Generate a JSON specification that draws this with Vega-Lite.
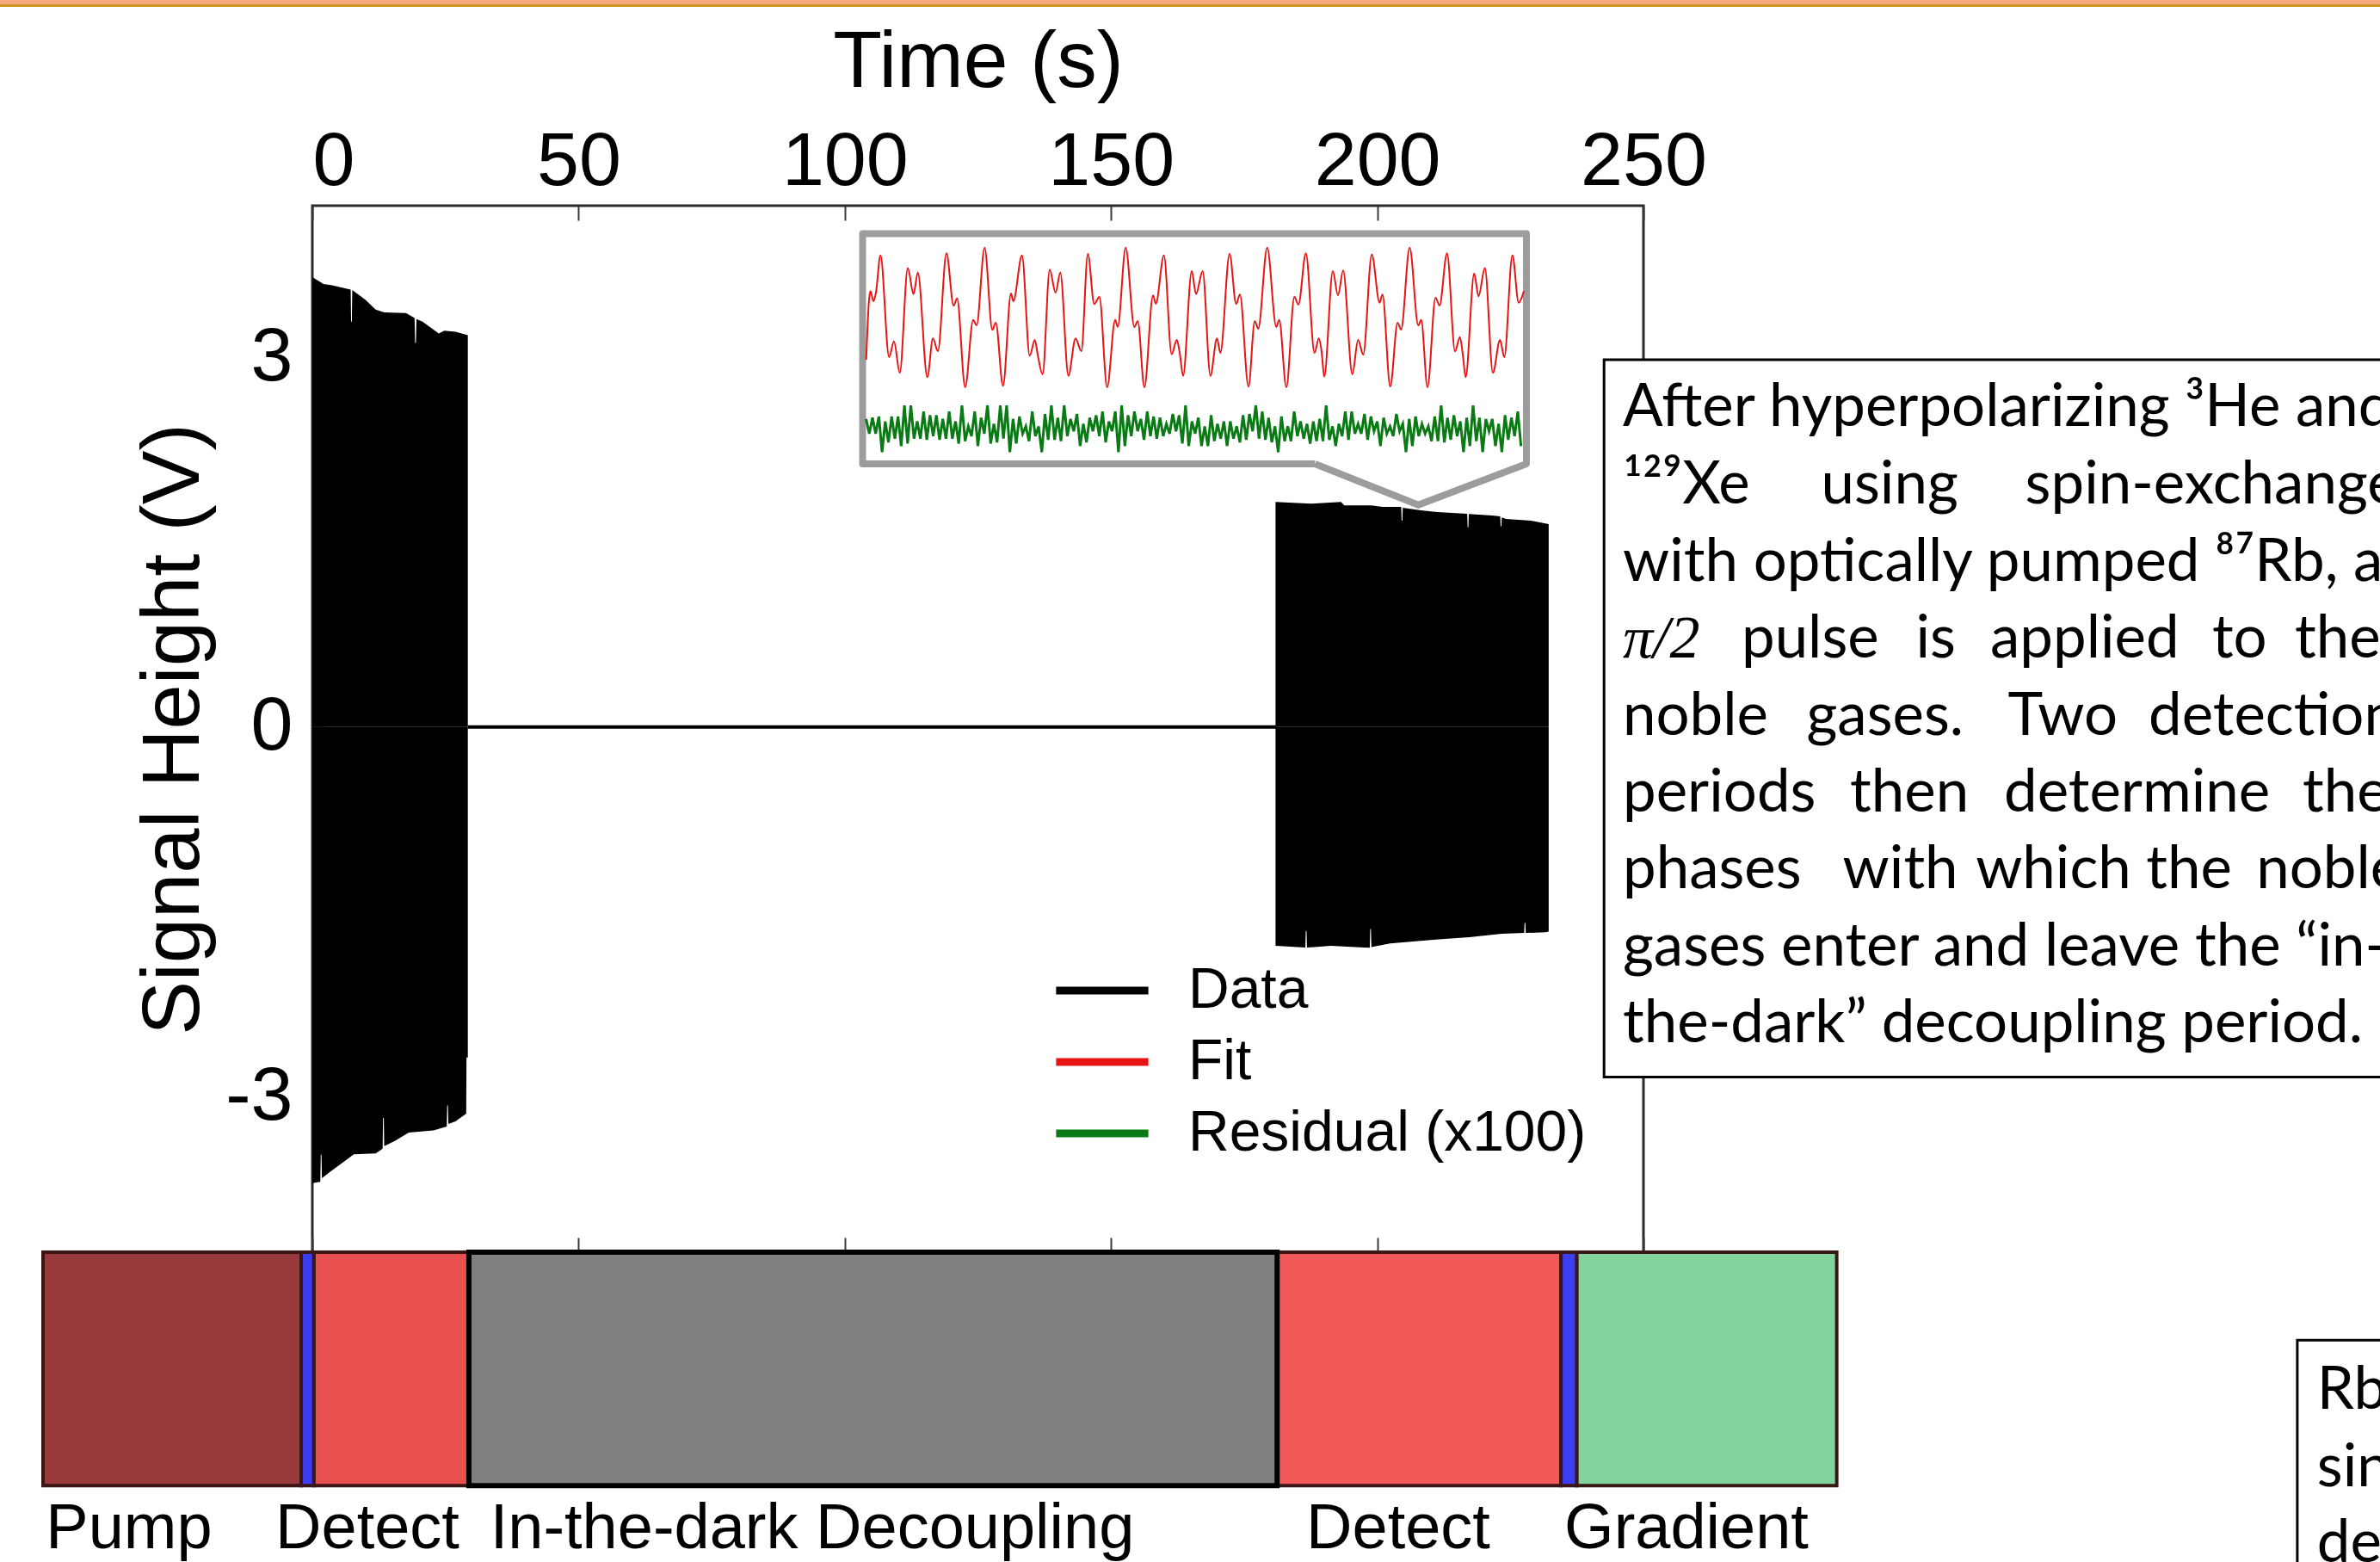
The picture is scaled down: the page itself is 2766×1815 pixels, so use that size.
{
  "$schema": "https://vega.github.io/schema/vega-lite/v6.json",
  "autosize": {"type": "none"},
  "padding": {"left": 363, "top": 239, "right": 856, "bottom": 360},
  "width": 1547,
  "height": 1216,
  "background": "white",
  "config": {"view": {"stroke": "#2a2a2a", "strokeWidth": 3}, "font": "Liberation Sans"},
  "resolve": {"axis": {"x": "independent", "y": "independent"}},
  "datasets": {
    "envelope": [
      {"series": "Data", "part": "A+", "t": 0, "v": 3.65},
      {"series": "Data", "part": "A+", "t": 2.1, "v": 3.594},
      {"series": "Data", "part": "A+", "t": 3.7, "v": 3.585},
      {"series": "Data", "part": "A+", "t": 6.3, "v": 3.558},
      {"series": "Data", "part": "A+", "t": 7.2, "v": 3.55},
      {"series": "Data", "part": "A+", "t": 7.28, "v": 3.29},
      {"series": "Data", "part": "A+", "t": 7.42, "v": 3.29},
      {"series": "Data", "part": "A+", "t": 7.5, "v": 3.545},
      {"series": "Data", "part": "A+", "t": 9.9, "v": 3.469},
      {"series": "Data", "part": "A+", "t": 11.9, "v": 3.387},
      {"series": "Data", "part": "A+", "t": 13.5, "v": 3.365},
      {"series": "Data", "part": "A+", "t": 17.6, "v": 3.359},
      {"series": "Data", "part": "A+", "t": 19.2, "v": 3.318},
      {"series": "Data", "part": "A+", "t": 19.3, "v": 3.116},
      {"series": "Data", "part": "A+", "t": 19.45, "v": 3.116},
      {"series": "Data", "part": "A+", "t": 19.55, "v": 3.31},
      {"series": "Data", "part": "A+", "t": 20.7, "v": 3.29},
      {"series": "Data", "part": "A+", "t": 23.75, "v": 3.193},
      {"series": "Data", "part": "A+", "t": 24.8, "v": 3.216},
      {"series": "Data", "part": "A+", "t": 26.9, "v": 3.207},
      {"series": "Data", "part": "A+", "t": 29.2, "v": 3.179},
      {"series": "Data", "part": "A-", "t": 0, "v": -3.7},
      {"series": "Data", "part": "A-", "t": 1.5, "v": -3.69},
      {"series": "Data", "part": "A-", "t": 1.58, "v": -3.47},
      {"series": "Data", "part": "A-", "t": 1.72, "v": -3.47},
      {"series": "Data", "part": "A-", "t": 1.8, "v": -3.66},
      {"series": "Data", "part": "A-", "t": 3.2, "v": -3.613},
      {"series": "Data", "part": "A-", "t": 7.8, "v": -3.466},
      {"series": "Data", "part": "A-", "t": 11.9, "v": -3.459},
      {"series": "Data", "part": "A-", "t": 13.2, "v": -3.42},
      {"series": "Data", "part": "A-", "t": 13.28, "v": -3.17},
      {"series": "Data", "part": "A-", "t": 13.42, "v": -3.17},
      {"series": "Data", "part": "A-", "t": 13.5, "v": -3.4},
      {"series": "Data", "part": "A-", "t": 15.5, "v": -3.358},
      {"series": "Data", "part": "A-", "t": 18.1, "v": -3.29},
      {"series": "Data", "part": "A-", "t": 22.75, "v": -3.272},
      {"series": "Data", "part": "A-", "t": 25.25, "v": -3.24},
      {"series": "Data", "part": "A-", "t": 25.33, "v": -3.07},
      {"series": "Data", "part": "A-", "t": 25.47, "v": -3.07},
      {"series": "Data", "part": "A-", "t": 25.55, "v": -3.22},
      {"series": "Data", "part": "A-", "t": 26.9, "v": -3.198},
      {"series": "Data", "part": "A-", "t": 28.9, "v": -3.136},
      {"series": "Data", "part": "A-", "t": 28.95, "v": -2.68},
      {"series": "Data", "part": "A-", "t": 29.2, "v": -2.68},
      {"series": "Data", "part": "B+", "t": 180.9, "v": 1.827},
      {"series": "Data", "part": "B+", "t": 187.6, "v": 1.813},
      {"series": "Data", "part": "B+", "t": 193.2, "v": 1.827},
      {"series": "Data", "part": "B+", "t": 193.8, "v": 1.799},
      {"series": "Data", "part": "B+", "t": 198.9, "v": 1.799},
      {"series": "Data", "part": "B+", "t": 201.0, "v": 1.786},
      {"series": "Data", "part": "B+", "t": 204.5, "v": 1.786},
      {"series": "Data", "part": "B+", "t": 204.58, "v": 1.675},
      {"series": "Data", "part": "B+", "t": 204.72, "v": 1.675},
      {"series": "Data", "part": "B+", "t": 204.8, "v": 1.78},
      {"series": "Data", "part": "B+", "t": 208.2, "v": 1.758},
      {"series": "Data", "part": "B+", "t": 211.3, "v": 1.744},
      {"series": "Data", "part": "B+", "t": 216.9, "v": 1.73},
      {"series": "Data", "part": "B+", "t": 216.98, "v": 1.62},
      {"series": "Data", "part": "B+", "t": 217.12, "v": 1.62},
      {"series": "Data", "part": "B+", "t": 217.2, "v": 1.728},
      {"series": "Data", "part": "B+", "t": 221.6, "v": 1.716},
      {"series": "Data", "part": "B+", "t": 223.1, "v": 1.71},
      {"series": "Data", "part": "B+", "t": 223.18, "v": 1.63},
      {"series": "Data", "part": "B+", "t": 223.32, "v": 1.63},
      {"series": "Data", "part": "B+", "t": 223.4, "v": 1.7},
      {"series": "Data", "part": "B+", "t": 224.2, "v": 1.689},
      {"series": "Data", "part": "B+", "t": 228.9, "v": 1.675},
      {"series": "Data", "part": "B+", "t": 232.2, "v": 1.647},
      {"series": "Data", "part": "B-", "t": 180.9, "v": -1.774},
      {"series": "Data", "part": "B-", "t": 186.5, "v": -1.789},
      {"series": "Data", "part": "B-", "t": 186.58, "v": -1.654},
      {"series": "Data", "part": "B-", "t": 186.72, "v": -1.654},
      {"series": "Data", "part": "B-", "t": 186.8, "v": -1.789},
      {"series": "Data", "part": "B-", "t": 191.3, "v": -1.774},
      {"series": "Data", "part": "B-", "t": 197.5, "v": -1.789},
      {"series": "Data", "part": "B-", "t": 198.6, "v": -1.79},
      {"series": "Data", "part": "B-", "t": 198.68, "v": -1.638},
      {"series": "Data", "part": "B-", "t": 198.82, "v": -1.638},
      {"series": "Data", "part": "B-", "t": 198.9, "v": -1.785},
      {"series": "Data", "part": "B-", "t": 202.4, "v": -1.756},
      {"series": "Data", "part": "B-", "t": 211.0, "v": -1.723},
      {"series": "Data", "part": "B-", "t": 217.3, "v": -1.705},
      {"series": "Data", "part": "B-", "t": 223.4, "v": -1.677},
      {"series": "Data", "part": "B-", "t": 227.6, "v": -1.67},
      {"series": "Data", "part": "B-", "t": 227.68, "v": -1.587},
      {"series": "Data", "part": "B-", "t": 227.82, "v": -1.587},
      {"series": "Data", "part": "B-", "t": 227.9, "v": -1.67},
      {"series": "Data", "part": "B-", "t": 231.6, "v": -1.665},
      {"series": "Data", "part": "B-", "t": 232.2, "v": -1.66}
    ],
    "fit": [
      {"series": "Fit", "t": 104.02, "v": 2.98}, {"series": "Fit", "t": 104.56, "v": 3.469}, {"series": "Fit", "t": 104.83, "v": 3.537},
      {"series": "Fit", "t": 105.37, "v": 3.455}, {"series": "Fit", "t": 105.85, "v": 3.525}, {"series": "Fit", "t": 106.71, "v": 3.827},
      {"series": "Fit", "t": 108.32, "v": 3.001}, {"series": "Fit", "t": 109.24, "v": 3.129}, {"series": "Fit", "t": 110.33, "v": 2.874},
      {"series": "Fit", "t": 111.83, "v": 3.723}, {"series": "Fit", "t": 112.91, "v": 3.513}, {"series": "Fit", "t": 113.72, "v": 3.688},
      {"series": "Fit", "t": 115.5, "v": 2.839}, {"series": "Fit", "t": 116.56, "v": 3.153}, {"series": "Fit", "t": 117.49, "v": 3.05},
      {"series": "Fit", "t": 119.1, "v": 3.844}, {"series": "Fit", "t": 120.44, "v": 3.42}, {"series": "Fit", "t": 121.09, "v": 3.478},
      {"series": "Fit", "t": 122.61, "v": 2.757}, {"series": "Fit", "t": 124.11, "v": 3.304}, {"series": "Fit", "t": 124.76, "v": 3.26},
      {"series": "Fit", "t": 126.26, "v": 3.89}, {"series": "Fit", "t": 127.71, "v": 3.223}, {"series": "Fit", "t": 128.36, "v": 3.281},
      {"series": "Fit", "t": 129.72, "v": 2.769}, {"series": "Fit", "t": 131.22, "v": 3.518}, {"series": "Fit", "t": 131.66, "v": 3.455},
      {"series": "Fit", "t": 133.28, "v": 3.827}, {"series": "Fit", "t": 134.73, "v": 3.013}, {"series": "Fit", "t": 135.7, "v": 3.141},
      {"series": "Fit", "t": 136.23, "v": 3.022}, {"series": "Fit", "t": 137.15, "v": 2.862}, {"series": "Fit", "t": 138.49, "v": 3.712},
      {"series": "Fit", "t": 139.58, "v": 3.525}, {"series": "Fit", "t": 140.48, "v": 3.688}, {"series": "Fit", "t": 142.0, "v": 2.85},
      {"series": "Fit", "t": 143.34, "v": 3.153}, {"series": "Fit", "t": 144.43, "v": 3.05}, {"series": "Fit", "t": 145.65, "v": 3.839},
      {"series": "Fit", "t": 146.85, "v": 3.432}, {"series": "Fit", "t": 147.82, "v": 3.49}, {"series": "Fit", "t": 149.27, "v": 2.757},
      {"series": "Fit", "t": 150.78, "v": 3.304}, {"series": "Fit", "t": 151.26, "v": 3.246}, {"series": "Fit", "t": 152.76, "v": 3.89},
      {"series": "Fit", "t": 154.38, "v": 3.246}, {"series": "Fit", "t": 155.03, "v": 3.293}, {"series": "Fit", "t": 156.27, "v": 2.757},
      {"series": "Fit", "t": 157.89, "v": 3.502}, {"series": "Fit", "t": 158.42, "v": 3.434}, {"series": "Fit", "t": 159.94, "v": 3.827},
      {"series": "Fit", "t": 161.39, "v": 3.024}, {"series": "Fit", "t": 162.36, "v": 3.141}, {"series": "Fit", "t": 162.9, "v": 3.036},
      {"series": "Fit", "t": 163.54, "v": 2.85}, {"series": "Fit", "t": 165.16, "v": 3.7}, {"series": "Fit", "t": 165.97, "v": 3.513},
      {"series": "Fit", "t": 167.21, "v": 3.7}, {"series": "Fit", "t": 168.67, "v": 2.85}, {"series": "Fit", "t": 169.9, "v": 3.153},
      {"series": "Fit", "t": 170.54, "v": 3.036}, {"series": "Fit", "t": 172.27, "v": 3.839}, {"series": "Fit", "t": 173.51, "v": 3.432},
      {"series": "Fit", "t": 174.21, "v": 3.509}, {"series": "Fit", "t": 175.82, "v": 2.762}, {"series": "Fit", "t": 177.0, "v": 3.293},
      {"series": "Fit", "t": 177.65, "v": 3.232}, {"series": "Fit", "t": 179.33, "v": 3.89}, {"series": "Fit", "t": 181.04, "v": 3.246},
      {"series": "Fit", "t": 181.59, "v": 3.304}, {"series": "Fit", "t": 182.93, "v": 2.757}, {"series": "Fit", "t": 184.44, "v": 3.49},
      {"series": "Fit", "t": 185.2, "v": 3.427}, {"series": "Fit", "t": 186.6, "v": 3.844}, {"series": "Fit", "t": 188.22, "v": 3.036},
      {"series": "Fit", "t": 189.03, "v": 3.153}, {"series": "Fit", "t": 189.56, "v": 3.043}, {"series": "Fit", "t": 190.05, "v": 2.843},
      {"series": "Fit", "t": 191.66, "v": 3.7}, {"series": "Fit", "t": 192.63, "v": 3.502}, {"series": "Fit", "t": 193.6, "v": 3.705},
      {"series": "Fit", "t": 195.33, "v": 2.862}, {"series": "Fit", "t": 196.4, "v": 3.141}, {"series": "Fit", "t": 197.37, "v": 3.022},
      {"series": "Fit", "t": 198.98, "v": 3.834}, {"series": "Fit", "t": 200.44, "v": 3.443}, {"series": "Fit", "t": 200.99, "v": 3.509},
      {"series": "Fit", "t": 202.44, "v": 2.762}, {"series": "Fit", "t": 203.83, "v": 3.281}, {"series": "Fit", "t": 204.48, "v": 3.225},
      {"series": "Fit", "t": 206.09, "v": 3.89}, {"series": "Fit", "t": 207.71, "v": 3.258}, {"series": "Fit", "t": 208.26, "v": 3.304},
      {"series": "Fit", "t": 209.44, "v": 2.757}, {"series": "Fit", "t": 210.95, "v": 3.483}, {"series": "Fit", "t": 211.7, "v": 3.42},
      {"series": "Fit", "t": 213.11, "v": 3.844}, {"series": "Fit", "t": 214.61, "v": 3.048}, {"series": "Fit", "t": 215.53, "v": 3.164},
      {"series": "Fit", "t": 216.07, "v": 3.022}, {"series": "Fit", "t": 216.6, "v": 2.839}, {"series": "Fit", "t": 218.21, "v": 3.681},
      {"series": "Fit", "t": 219.02, "v": 3.495}, {"series": "Fit", "t": 220.22, "v": 3.723}, {"series": "Fit", "t": 221.72, "v": 2.874},
      {"series": "Fit", "t": 223.06, "v": 3.141}, {"series": "Fit", "t": 223.87, "v": 3.001}, {"series": "Fit", "t": 225.38, "v": 3.827},
      {"series": "Fit", "t": 226.57, "v": 3.443}, {"series": "Fit", "t": 227.54, "v": 3.537}
    ],
    "residual": [
      {"t": 104.0, "v": 2.50}, {"t": 104.6, "v": 2.38}, {"t": 105.2, "v": 2.51}, {"t": 105.8, "v": 2.38}, {"t": 106.4, "v": 2.52},
      {"t": 107.0, "v": 2.23}, {"t": 107.6, "v": 2.48}, {"t": 108.2, "v": 2.31}, {"t": 108.8, "v": 2.52}, {"t": 109.4, "v": 2.34},
      {"t": 110.0, "v": 2.52}, {"t": 110.6, "v": 2.28}, {"t": 111.2, "v": 2.61}, {"t": 111.8, "v": 2.30}, {"t": 112.4, "v": 2.61},
      {"t": 113.0, "v": 2.34}, {"t": 113.6, "v": 2.48}, {"t": 114.2, "v": 2.34}, {"t": 114.8, "v": 2.56}, {"t": 115.4, "v": 2.33},
      {"t": 116.0, "v": 2.53}, {"t": 116.6, "v": 2.36}, {"t": 117.2, "v": 2.53}, {"t": 117.8, "v": 2.33}, {"t": 118.4, "v": 2.50},
      {"t": 119.0, "v": 2.34}, {"t": 119.6, "v": 2.56}, {"t": 120.2, "v": 2.34}, {"t": 120.8, "v": 2.48}, {"t": 121.4, "v": 2.30},
      {"t": 122.0, "v": 2.61}, {"t": 122.6, "v": 2.32}, {"t": 123.2, "v": 2.44}, {"t": 123.8, "v": 2.36}, {"t": 124.4, "v": 2.56},
      {"t": 125.0, "v": 2.28}, {"t": 125.6, "v": 2.51}, {"t": 126.2, "v": 2.38}, {"t": 126.8, "v": 2.61}, {"t": 127.4, "v": 2.30},
      {"t": 128.0, "v": 2.46}, {"t": 128.6, "v": 2.31}, {"t": 129.2, "v": 2.61}, {"t": 129.8, "v": 2.34}, {"t": 130.4, "v": 2.61},
      {"t": 131.0, "v": 2.23}, {"t": 131.6, "v": 2.50}, {"t": 132.2, "v": 2.30}, {"t": 132.8, "v": 2.52}, {"t": 133.4, "v": 2.38},
      {"t": 134.0, "v": 2.44}, {"t": 134.6, "v": 2.32}, {"t": 135.2, "v": 2.56}, {"t": 135.8, "v": 2.36}, {"t": 136.4, "v": 2.44},
      {"t": 137.0, "v": 2.23}, {"t": 137.6, "v": 2.54}, {"t": 138.2, "v": 2.33}, {"t": 138.8, "v": 2.61}, {"t": 139.4, "v": 2.33},
      {"t": 140.0, "v": 2.51}, {"t": 140.6, "v": 2.32}, {"t": 141.2, "v": 2.61}, {"t": 141.8, "v": 2.36}, {"t": 142.4, "v": 2.50},
      {"t": 143.0, "v": 2.40}, {"t": 143.6, "v": 2.54}, {"t": 144.2, "v": 2.28}, {"t": 144.8, "v": 2.46}, {"t": 145.4, "v": 2.31},
      {"t": 146.0, "v": 2.51}, {"t": 146.6, "v": 2.40}, {"t": 147.2, "v": 2.53}, {"t": 147.8, "v": 2.36}, {"t": 148.4, "v": 2.56},
      {"t": 149.0, "v": 2.31}, {"t": 149.6, "v": 2.48}, {"t": 150.2, "v": 2.40}, {"t": 150.8, "v": 2.56}, {"t": 151.4, "v": 2.23},
      {"t": 152.0, "v": 2.61}, {"t": 152.6, "v": 2.28}, {"t": 153.2, "v": 2.53}, {"t": 153.8, "v": 2.36}, {"t": 154.4, "v": 2.56},
      {"t": 155.0, "v": 2.40}, {"t": 155.6, "v": 2.50}, {"t": 156.2, "v": 2.33}, {"t": 156.8, "v": 2.56}, {"t": 157.4, "v": 2.36},
      {"t": 158.0, "v": 2.52}, {"t": 158.6, "v": 2.34}, {"t": 159.2, "v": 2.51}, {"t": 159.8, "v": 2.36}, {"t": 160.4, "v": 2.46},
      {"t": 161.0, "v": 2.38}, {"t": 161.6, "v": 2.54}, {"t": 162.2, "v": 2.40}, {"t": 162.8, "v": 2.53}, {"t": 163.4, "v": 2.30},
      {"t": 164.0, "v": 2.61}, {"t": 164.6, "v": 2.28}, {"t": 165.2, "v": 2.48}, {"t": 165.8, "v": 2.38}, {"t": 166.4, "v": 2.51},
      {"t": 167.0, "v": 2.28}, {"t": 167.6, "v": 2.44}, {"t": 168.2, "v": 2.28}, {"t": 168.8, "v": 2.53}, {"t": 169.4, "v": 2.32},
      {"t": 170.0, "v": 2.46}, {"t": 170.6, "v": 2.34}, {"t": 171.2, "v": 2.48}, {"t": 171.8, "v": 2.28}, {"t": 172.4, "v": 2.48},
      {"t": 173.0, "v": 2.34}, {"t": 173.6, "v": 2.44}, {"t": 174.2, "v": 2.31}, {"t": 174.8, "v": 2.53}, {"t": 175.4, "v": 2.33},
      {"t": 176.0, "v": 2.54}, {"t": 176.6, "v": 2.40}, {"t": 177.2, "v": 2.61}, {"t": 177.8, "v": 2.34}, {"t": 178.4, "v": 2.56},
      {"t": 179.0, "v": 2.33}, {"t": 179.6, "v": 2.51}, {"t": 180.2, "v": 2.31}, {"t": 180.8, "v": 2.44}, {"t": 181.4, "v": 2.23},
      {"t": 182.0, "v": 2.52}, {"t": 182.6, "v": 2.32}, {"t": 183.2, "v": 2.44}, {"t": 183.8, "v": 2.32}, {"t": 184.4, "v": 2.56},
      {"t": 185.0, "v": 2.36}, {"t": 185.6, "v": 2.48}, {"t": 186.2, "v": 2.34}, {"t": 186.8, "v": 2.46}, {"t": 187.4, "v": 2.30},
      {"t": 188.0, "v": 2.48}, {"t": 188.6, "v": 2.32}, {"t": 189.2, "v": 2.50}, {"t": 189.8, "v": 2.32}, {"t": 190.4, "v": 2.61},
      {"t": 191.0, "v": 2.33}, {"t": 191.6, "v": 2.44}, {"t": 192.2, "v": 2.28}, {"t": 192.8, "v": 2.46}, {"t": 193.4, "v": 2.36},
      {"t": 194.0, "v": 2.56}, {"t": 194.6, "v": 2.33}, {"t": 195.2, "v": 2.56}, {"t": 195.8, "v": 2.38}, {"t": 196.4, "v": 2.46},
      {"t": 197.0, "v": 2.38}, {"t": 197.6, "v": 2.54}, {"t": 198.2, "v": 2.33}, {"t": 198.8, "v": 2.52}, {"t": 199.4, "v": 2.40},
      {"t": 200.0, "v": 2.48}, {"t": 200.6, "v": 2.28}, {"t": 201.2, "v": 2.51}, {"t": 201.8, "v": 2.38}, {"t": 202.4, "v": 2.44},
      {"t": 203.0, "v": 2.36}, {"t": 203.6, "v": 2.54}, {"t": 204.2, "v": 2.40}, {"t": 204.8, "v": 2.46}, {"t": 205.4, "v": 2.23},
      {"t": 206.0, "v": 2.50}, {"t": 206.6, "v": 2.28}, {"t": 207.2, "v": 2.52}, {"t": 207.8, "v": 2.36}, {"t": 208.4, "v": 2.46},
      {"t": 209.0, "v": 2.38}, {"t": 209.6, "v": 2.44}, {"t": 210.2, "v": 2.32}, {"t": 210.8, "v": 2.52}, {"t": 211.4, "v": 2.32},
      {"t": 212.0, "v": 2.61}, {"t": 212.6, "v": 2.31}, {"t": 213.2, "v": 2.51}, {"t": 213.8, "v": 2.33}, {"t": 214.4, "v": 2.53},
      {"t": 215.0, "v": 2.36}, {"t": 215.6, "v": 2.48}, {"t": 216.2, "v": 2.23}, {"t": 216.8, "v": 2.51}, {"t": 217.4, "v": 2.28},
      {"t": 218.0, "v": 2.61}, {"t": 218.6, "v": 2.32}, {"t": 219.2, "v": 2.51}, {"t": 219.8, "v": 2.23}, {"t": 220.4, "v": 2.50},
      {"t": 221.0, "v": 2.40}, {"t": 221.6, "v": 2.50}, {"t": 222.2, "v": 2.28}, {"t": 222.8, "v": 2.46}, {"t": 223.4, "v": 2.23},
      {"t": 224.0, "v": 2.53}, {"t": 224.6, "v": 2.33}, {"t": 225.2, "v": 2.51}, {"t": 225.8, "v": 2.36}, {"t": 226.4, "v": 2.56},
      {"t": 227.0, "v": 2.28}
    ],
    "phases": [
      {"phase": "Pump", "start": -50.58, "end": -2.1},
      {"phase": "Pulse 1", "start": -2.1, "end": 0.3},
      {"phase": "Detect 1", "start": 0.3, "end": 29.4},
      {"phase": "In-the-dark Decoupling", "start": 29.4, "end": 181.2},
      {"phase": "Detect 2", "start": 181.2, "end": 234.5},
      {"phase": "Pulse 2", "start": 234.5, "end": 237.5},
      {"phase": "Gradient", "start": 237.5, "end": 286.3}
    ],
    "phaseLabels": [
      {"label": "Pump", "t": -34.42},
      {"label": "Detect", "t": 10.34},
      {"label": "In-the-dark Decoupling", "t": 93.89},
      {"label": "Detect", "t": 203.94},
      {"label": "Gradient", "t": 258.08}
    ],
    "insetFrame": [
      {"k": 1, "t": 188.31, "v": 2.135},
      {"k": 2, "t": 103.35, "v": 2.135},
      {"k": 3, "t": 103.35, "v": 4.003},
      {"k": 4, "t": 228.02, "v": 4.003},
      {"k": 5, "t": 228.02, "v": 2.135},
      {"k": 6, "t": 207.71, "v": 1.802},
      {"k": 7, "t": 188.31, "v": 2.135}
    ],
    "boxes": [
      {"box": "caption", "t0": 242.6, "t1": 402, "v0": 2.98, "v1": -2.84},
      {"box": "caption 2", "t0": 372.8, "t1": 402, "v0": -4.974, "v1": -7.5}
    ],
    "notes": [
      {"t": 246.12, "v": 2.443, "text": "After hyperpolarizing ³He and"},
      {"t": 246.12, "v": 1.814, "text": "¹²⁹Xe"},
      {"t": 283.37, "v": 1.814, "text": "using"},
      {"t": 321.69, "v": 1.814, "text": "spin-exchange"},
      {"t": 246.12, "v": 1.189, "text": "with optically pumped ⁸⁷Rb, a"},
      {"t": 268.42, "v": 0.564, "text": "pulse"},
      {"t": 301.15, "v": 0.564, "text": "is"},
      {"t": 315.13, "v": 0.564, "text": "applied"},
      {"t": 356.82, "v": 0.564, "text": "to"},
      {"t": 372.33, "v": 0.564, "text": "the"},
      {"t": 246.12, "v": -0.064, "text": "noble"},
      {"t": 280.62, "v": -0.064, "text": "gases."},
      {"t": 318.44, "v": -0.064, "text": "Two"},
      {"t": 344.86, "v": -0.064, "text": "detection"},
      {"t": 246.12, "v": -0.686, "text": "periods"},
      {"t": 288.78, "v": -0.686, "text": "then"},
      {"t": 317.71, "v": -0.686, "text": "determine"},
      {"t": 373.79, "v": -0.686, "text": "the"},
      {"t": 246.12, "v": -1.307, "text": "phases"},
      {"t": 287.43, "v": -1.307, "text": "with"},
      {"t": 312.4, "v": -1.307, "text": "which"},
      {"t": 344.4, "v": -1.307, "text": "the"},
      {"t": 365.1, "v": -1.307, "text": "noble"},
      {"t": 246.12, "v": -1.936, "text": "gases enter and leave the “in-"},
      {"t": 246.12, "v": -2.554, "text": "the-dark” decoupling period."},
      {"t": 376.5, "v": -5.532, "text": "Rb"},
      {"t": 376.5, "v": -6.161, "text": "sin"},
      {"t": 376.5, "v": -6.775, "text": "de"}
    ],
    "math": [
      {"t": 246.12, "v": 0.564, "text": "π/2"}
    ]
  },
  "layer": [
    {
      "data": {"values": [{"band": "header"}]},
      "mark": {"type": "rect", "color": "#F6A97C"},
      "encoding": {
        "x": {"datum": -60, "type": "quantitative", "axis": null, "scale": {"domain": [0, 250], "nice": false, "zero": false}},
        "x2": {"datum": 400},
        "y": {"datum": 5.95, "type": "quantitative", "axis": null, "scale": {"domain": [-4.26, 4.23], "nice": false, "zero": false}},
        "y2": {"datum": 5.864}
      }
    },
    {
      "data": {"values": [{"band": "header line"}]},
      "mark": {"type": "rect", "color": "#C9961F"},
      "encoding": {
        "x": {"datum": -60, "type": "quantitative", "axis": null},
        "x2": {"datum": 400},
        "y": {"datum": 5.864, "type": "quantitative", "axis": null},
        "y2": {"datum": 5.843}
      }
    },
    {
      "data": {"name": "envelope"},
      "mark": {"type": "area", "opacity": 1, "interpolate": "linear"},
      "encoding": {
        "x": {
          "field": "t", "type": "quantitative",
          "scale": {"domain": [0, 250], "nice": false, "zero": false},
          "axis": {
            "orient": "top", "values": [0, 50, 100, 150, 200, 250], "format": "d",
            "title": "Time (s)", "titleFont": "Liberation Sans", "titleFontSize": 93, "titleFontWeight": "normal", "titleColor": "#000000", "titlePadding": 24,
            "labelFont": "Liberation Sans", "labelFontSize": 88, "labelColor": "#000000", "labelPadding": 24, "labelFlush": false, "labelOverlap": false,
            "labelAlign": {"condition": {"test": "datum.value === 0", "value": "left"}, "value": "center"},
            "tickSize": -17, "tickWidth": 2, "tickColor": "#3a3a3a", "domain": false, "grid": false
          }
        },
        "y": {
          "field": "v", "type": "quantitative",
          "scale": {"domain": [-4.26, 4.23], "nice": false, "zero": false},
          "axis": {
            "orient": "left", "values": [-3, 0, 3],
            "labelExpr": "datum.value < 0 ? '-' + format(-datum.value, 'd') : format(datum.value, 'd')",
            "title": "Signal Height (V)", "titleFont": "Liberation Sans", "titleFontSize": 94, "titleFontWeight": "normal", "titleColor": "#000000", "titlePadding": 11,
            "labelFont": "Liberation Sans", "labelFontSize": 88, "labelColor": "#000000", "labelPadding": 40, "labelFlush": false, "labelOverlap": false,
            "tickSize": -17, "tickWidth": 2, "tickColor": "#3a3a3a", "domain": false, "grid": false
          }
        },
        "y2": {"datum": 0},
        "detail": {"field": "part"},
        "color": {
          "field": "series", "type": "nominal",
          "scale": {"domain": ["Data", "Fit", "Residual (x100)"], "range": ["#000000", "#E81414", "#0A7A14"]},
          "legend": {
            "title": null, "orient": "none", "legendX": 876, "legendY": 870, "direction": "vertical",
            "symbolType": "M-1.43,0H1.43", "symbolSize": 5625, "symbolStrokeWidth": 9,
            "labelFont": "Liberation Sans", "labelFontSize": 66, "labelColor": "#000000", "labelOffset": 58, "labelLimit": 0,
            "rowPadding": 8, "padding": 0,
            "encode": {"symbols": {"update": {"stroke": {"scale": "color", "field": "value"}, "strokeWidth": {"value": 9}}}}
          }
        }
      }
    },
    {
      "data": {"values": [{"t": 29.2, "v": 0}, {"t": 181.0, "v": 0}]},
      "mark": {"type": "line", "color": "#000000", "strokeWidth": 4},
      "encoding": {
        "x": {
          "field": "t", "type": "quantitative",
          "axis": {"orient": "bottom", "values": [0, 50, 100, 150, 200, 250], "labels": false, "title": null, "tickSize": -17, "tickWidth": 2, "tickColor": "#3a3a3a", "domain": false, "grid": false}
        },
        "y": {"field": "v", "type": "quantitative", "axis": null}
      }
    },
    {
      "data": {"name": "insetFrame"},
      "mark": {"type": "line", "color": "#9C9C9C", "strokeWidth": 8, "strokeJoin": "round"},
      "encoding": {
        "x": {"field": "t", "type": "quantitative", "axis": null},
        "y": {"field": "v", "type": "quantitative", "axis": null},
        "order": {"field": "k"}
      }
    },
    {
      "data": {"name": "fit"},
      "mark": {"type": "line", "strokeWidth": 2, "interpolate": "monotone"},
      "encoding": {
        "x": {"field": "t", "type": "quantitative", "axis": null},
        "y": {"field": "v", "type": "quantitative", "axis": null},
        "color": {"field": "series", "type": "nominal"}
      }
    },
    {
      "data": {"name": "residual"},
      "transform": [{"calculate": "'Residual (x100)'", "as": "series"}],
      "mark": {"type": "line", "strokeWidth": 3},
      "encoding": {
        "x": {"field": "t", "type": "quantitative", "axis": null},
        "y": {"field": "v", "type": "quantitative", "axis": null},
        "color": {"field": "series", "type": "nominal"}
      }
    },
    {
      "data": {"name": "phases"},
      "transform": [{"filter": "datum.phase !== 'In-the-dark Decoupling'"}],
      "mark": {"type": "rect", "stroke": "#3A1616", "strokeWidth": 4},
      "encoding": {
        "x": {"field": "start", "type": "quantitative", "axis": null},
        "x2": {"field": "end"},
        "y": {"datum": -4.26, "type": "quantitative", "axis": null},
        "y2": {"datum": -6.154},
        "fill": {
          "field": "phase", "type": "nominal", "legend": null,
          "scale": {"domain": ["Pump", "Pulse 1", "Detect 1", "In-the-dark Decoupling", "Detect 2", "Pulse 2", "Gradient"],
                    "range": ["#983A3C", "#3D3DF2", "#E85050", "#808080", "#F25858", "#3D3DF2", "#80D49C"]}
        }
      }
    },
    {
      "data": {"name": "phases"},
      "transform": [{"filter": "datum.phase === 'In-the-dark Decoupling'"}],
      "mark": {"type": "rect", "stroke": "#000000", "strokeWidth": 6},
      "encoding": {
        "x": {"field": "start", "type": "quantitative", "axis": null},
        "x2": {"field": "end"},
        "y": {"datum": -4.26, "type": "quantitative", "axis": null},
        "y2": {"datum": -6.154},
        "fill": {"field": "phase", "type": "nominal", "legend": null}
      }
    },
    {
      "data": {"name": "phaseLabels"},
      "mark": {"type": "text", "font": "Liberation Sans", "fontSize": 74, "color": "#000000", "align": "center", "baseline": "alphabetic"},
      "encoding": {
        "x": {"field": "t", "type": "quantitative", "axis": null},
        "y": {"datum": -6.663, "type": "quantitative", "axis": null},
        "text": {"field": "label"}
      }
    },
    {
      "data": {"name": "boxes"},
      "mark": {"type": "rect", "fill": "#FFFFFF", "stroke": "#000000", "strokeWidth": 3},
      "encoding": {
        "x": {"field": "t0", "type": "quantitative", "axis": null},
        "x2": {"field": "t1"},
        "y": {"field": "v0", "type": "quantitative", "axis": null},
        "y2": {"field": "v1"}
      }
    },
    {
      "data": {"name": "notes"},
      "mark": {"type": "text", "font": "Lato", "fontSize": 69, "color": "#000000", "align": "left", "baseline": "alphabetic"},
      "encoding": {
        "x": {"field": "t", "type": "quantitative", "axis": null},
        "y": {"field": "v", "type": "quantitative", "axis": null},
        "text": {"field": "text"}
      }
    },
    {
      "data": {"name": "math"},
      "mark": {"type": "text", "font": "Liberation Serif", "fontStyle": "italic", "fontSize": 70, "color": "#000000", "align": "left", "baseline": "alphabetic"},
      "encoding": {
        "x": {"field": "t", "type": "quantitative", "axis": null},
        "y": {"field": "v", "type": "quantitative", "axis": null},
        "text": {"field": "text"}
      }
    }
  ]
}
